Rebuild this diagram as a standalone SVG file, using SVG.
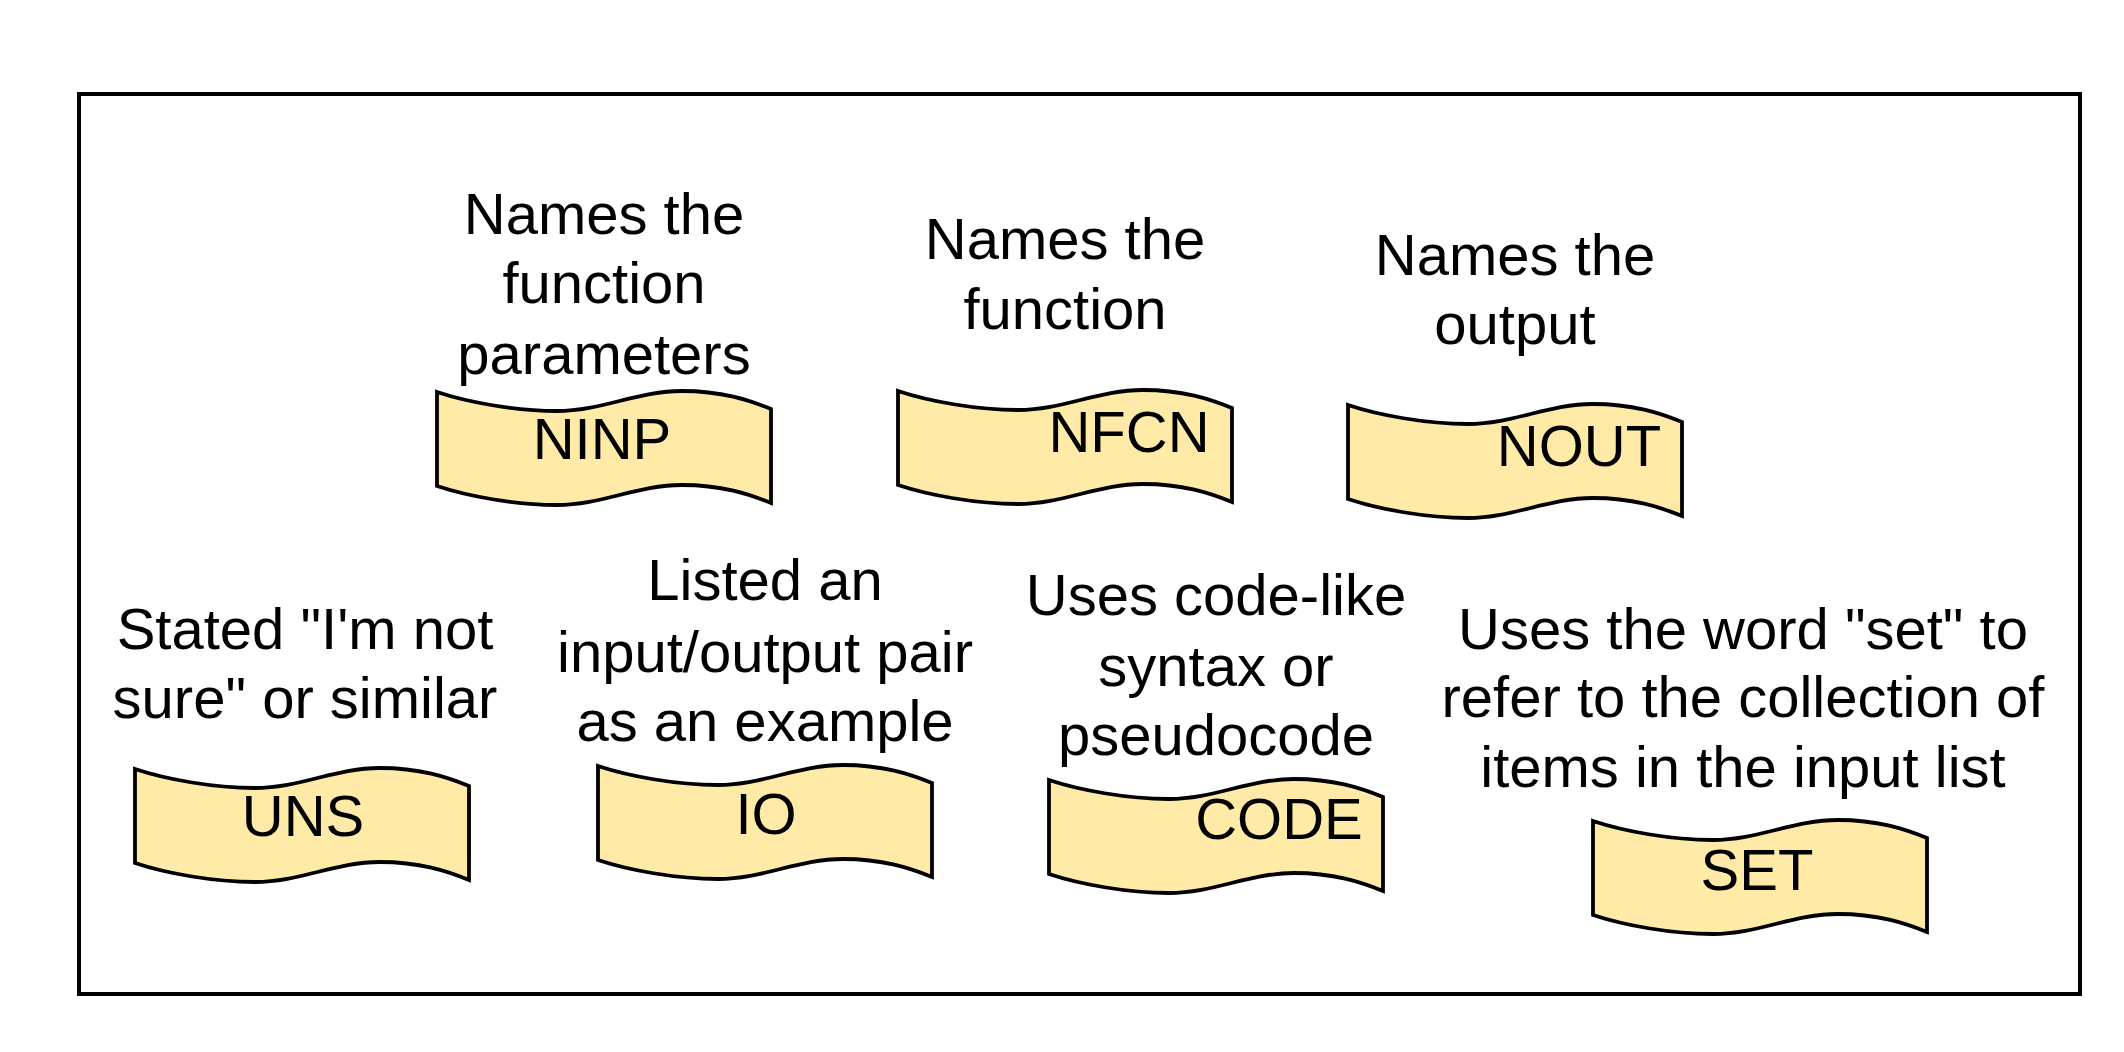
<svg xmlns="http://www.w3.org/2000/svg" xmlns:xlink="http://www.w3.org/1999/xlink" width="2124" height="1052" viewBox="0 0 2124 1052">
<style>
.tape{fill:#FFEAA7;stroke:#000;stroke-width:3.8;stroke-linejoin:miter}
.desc{font-family:"Liberation Sans",Arial,sans-serif;font-size:58px;fill:#000;text-anchor:middle}
.lbl{font-family:"Liberation Sans",Arial,sans-serif;font-size:58px;fill:#000;text-anchor:middle}
</style>
<defs>
<path id="tapeShape" d="M0,0 C30,10 78,19 120,19 C165,19 200,-1 245,-1 C285,-1 312,8 334,17 L334,111 C312,102 285,93 245,93 C200,93 165,113 120,113 C78,113 30,104 0,94 Z"/>
</defs>
<rect x="0" y="0" width="2124" height="1052" fill="#fff"/>
<rect id="frame" x="79" y="94" width="2001" height="900" fill="#fff" stroke="#000" stroke-width="4"/>
<g id="connectors"></g>
<g id="NINP">
<text class="desc" x="604" y="234">Names the</text>
<text class="desc" x="604" y="303">function</text>
<text class="desc" x="604" y="374">parameters</text>
<use href="#tapeShape" xlink:href="#tapeShape" class="tape" x="437" y="392"/>
<text class="lbl" x="602" y="459">NINP</text>
</g>
<g id="NFCN">
<text class="desc" x="1065" y="259">Names the</text>
<text class="desc" x="1065" y="329">function</text>
<use href="#tapeShape" xlink:href="#tapeShape" class="tape" x="898" y="391"/>
<text class="lbl" x="1129" y="452">NFCN</text>
</g>
<g id="NOUT">
<text class="desc" x="1515" y="275">Names the</text>
<text class="desc" x="1515" y="344">output</text>
<use href="#tapeShape" xlink:href="#tapeShape" class="tape" x="1348" y="405"/>
<text class="lbl" x="1579" y="466">NOUT</text>
</g>
<g id="UNS">
<text class="desc" x="305" y="649">Stated "I'm not</text>
<text class="desc" x="305" y="718">sure" or similar</text>
<use href="#tapeShape" xlink:href="#tapeShape" class="tape" x="135" y="769"/>
<text class="lbl" x="303" y="836">UNS</text>
</g>
<g id="IO">
<text class="desc" x="765" y="600">Listed an</text>
<text class="desc" x="765" y="672">input/output pair</text>
<text class="desc" x="765" y="741">as an example</text>
<use href="#tapeShape" xlink:href="#tapeShape" class="tape" x="598" y="766"/>
<text class="lbl" x="766" y="834">IO</text>
</g>
<g id="CODE">
<text class="desc" x="1216" y="615">Uses code-like</text>
<text class="desc" x="1216" y="686">syntax or</text>
<text class="desc" x="1216" y="755">pseudocode</text>
<use href="#tapeShape" xlink:href="#tapeShape" class="tape" x="1049" y="780"/>
<text class="lbl" x="1279" y="839">CODE</text>
</g>
<g id="SET">
<text class="desc" x="1743" y="649">Uses the word "set" to</text>
<text class="desc" x="1743" y="717">refer to the collection of</text>
<text class="desc" x="1743" y="787">items in the input list</text>
<use href="#tapeShape" xlink:href="#tapeShape" class="tape" x="1593" y="821"/>
<text class="lbl" x="1757" y="890">SET</text>
</g>
</svg>
